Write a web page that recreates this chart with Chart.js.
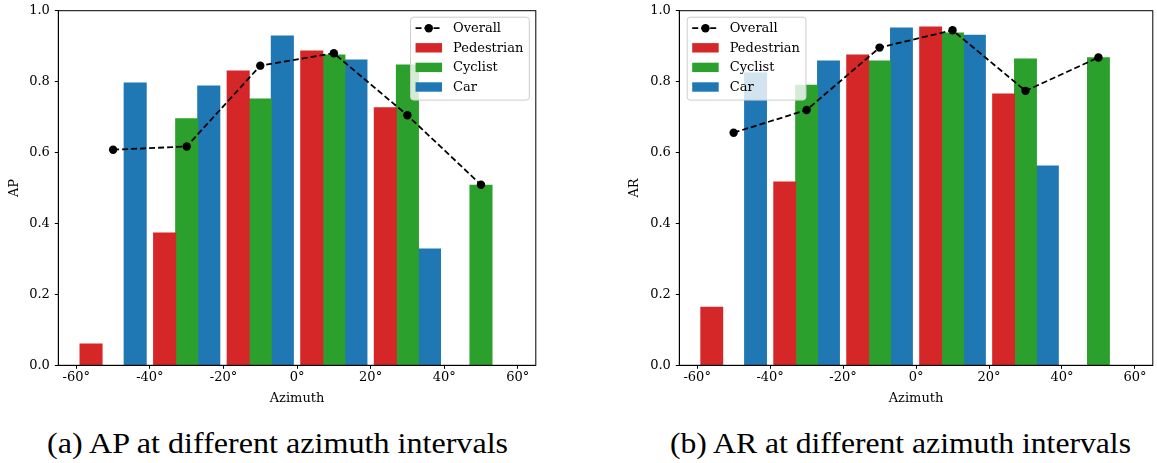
<!DOCTYPE html>
<html>
<head>
<meta charset="utf-8">
<script src="https://cdn.jsdelivr.net/npm/chart.js@4.4.1/dist/chart.umd.min.js"></script>
<style>
  body { margin: 0; background: #fff; width: 1157px; height: 463px; position: relative; overflow: hidden; }
  canvas { position: absolute; top: 0; }
  .caption { position: absolute; top: 428px; font-size: 28.5px; color: #000; white-space: nowrap; transform-origin: center; }
</style>
</head>
<body>
<canvas id="apChart" width="540" height="410" style="left:0px"></canvas>
<canvas id="arChart" width="537" height="410" style="left:620px"></canvas>
<div class="caption" data-cx="277.5">(a) AP at different azimuth intervals</div>
<div class="caption" data-cx="900.5">(b) AR at different azimuth intervals</div>
<script>
// azimuth interval centres (deg)
var azimuth = [-50, -30, -10, 10, 30, 50];
var xTicks = [-60, -40, -20, 0, 20, 40, 60];
var yTicks = [0, 0.2, 0.4, 0.6, 0.8, 1.0];

// AP per class, null where the class has no samples
var apOverall = [0.608, 0.617, 0.845, 0.880, 0.705, 0.509];
var apPedestrian = [0.060, 0.373, 0.830, 0.886, 0.726, null];
var apCyclist = [null, 0.695, 0.751, 0.875, 0.847, 0.508];
var apCar = [0.796, 0.788, 0.929, 0.861, 0.328, null];

// AR per class
var arOverall = [0.656, 0.720, 0.896, 0.945, 0.774, 0.868];
var arPedestrian = [0.164, 0.517, 0.875, 0.954, 0.765, null];
var arCyclist = [null, 0.790, 0.858, 0.937, 0.864, 0.867];
var arCar = [0.824, 0.858, 0.951, 0.931, 0.562, null];

// first installed family of a list, found by comparing text widths
function pickFont(names) {
    var c = document.createElement('canvas').getContext('2d');
    var probe = 'AaBbMmWwIil1234567890()°';
    function w(f) { c.font = '40px ' + f; return c.measureText(probe).width; }
    var mono = w('monospace'), sans = w('sans-serif');
    for (var i = 0; i < names.length; i++) {
        var q = '"' + names[i] + '"';
        if (w(q + ', monospace') !== mono || w(q + ', sans-serif') !== sans) return q;
    }
    return 'serif';
}

var SERIF = pickFont(['DejaVu Serif', 'Liberation Serif', 'Noto Serif', 'Times New Roman']);
var CAPTION_FONT = pickFont(['Liberation Serif', 'Times New Roman', 'DejaVu Serif', 'Noto Serif']);
var FONT = SERIF + ', serif';
var FS = 13;

// captions: centred under each panel, stretched to the panel caption width
document.querySelectorAll('.caption').forEach(function(el) {
    el.style.fontFamily = CAPTION_FONT + ', serif';
    var w = el.getBoundingClientRect().width;
    var s = 461 / w;
    el.style.left = (parseFloat(el.dataset.cx) - w / 2) + 'px';
    el.style.transform = 'scaleX(' + s + ')';
});

function points(vals) {
    return azimuth.map(function(x, i) { return { x: x, y: vals[i] }; });
}

// keep the plot box fixed: no extra room reserved for overhanging tick labels
function noOverhang(s) {
    s.paddingTop = 0;
    s.paddingBottom = 0;
    s.paddingLeft = 0;
    s.paddingRight = 0;
}

// frame on all four sides of the plot area
var frame = {
    id: 'frame',
    afterDraw: function(chart) {
        var a = chart.chartArea, ctx = chart.ctx;
        ctx.save();
        ctx.strokeStyle = '#000';
        ctx.lineWidth = 1;
        ctx.strokeRect(a.left, a.top, a.right - a.left, a.bottom - a.top);
        ctx.restore();
    }
};

// matplotlib-style legend box inside the plot
var boxLegend = {
    id: 'boxLegend',
    afterDatasetsDraw: function(chart, args, opts) {
        var ctx = chart.ctx, a = chart.chartArea;
        var sets = chart.data.datasets;
        ctx.save();
        ctx.font = FS + 'px ' + FONT;
        var tw = 0;
        sets.forEach(function(d) { tw = Math.max(tw, ctx.measureText(d.label).width); });
        var pad = 5.5, handle = 26.5, gap = 11, row = 19.6;
        var w = pad + handle + gap + tw + pad;
        var h = row * sets.length + 4.5;
        var x = opts.side === 'right' ? a.right - 7 - w : a.left + 7.4;
        var y = a.top + 6;
        ctx.fillStyle = 'rgba(255,255,255,0.8)';
        ctx.strokeStyle = '#cccccc';
        ctx.lineWidth = 1;
        ctx.beginPath();
        ctx.roundRect(x + 0.5, y + 0.5, w, h, 3);
        ctx.fill();
        ctx.stroke();
        sets.forEach(function(d, i) {
            var cy = y + 11.5 + i * row;
            var hx = x + pad;
            if (d.type === 'line') {
                ctx.strokeStyle = '#000';
                ctx.lineWidth = 1.8;
                ctx.setLineDash([6, 3]);
                ctx.beginPath();
                ctx.moveTo(hx, cy);
                ctx.lineTo(hx + handle, cy);
                ctx.stroke();
                ctx.setLineDash([]);
                ctx.fillStyle = '#000';
                ctx.beginPath();
                ctx.arc(hx + handle / 2, cy, 4.2, 0, Math.PI * 2);
                ctx.fill();
            } else {
                ctx.fillStyle = d.backgroundColor;
                ctx.fillRect(hx, cy - 4.7, handle, 9.4);
            }
            ctx.fillStyle = '#000';
            ctx.textBaseline = 'middle';
            ctx.fillText(d.label, hx + handle + gap, cy + 0.5);
        });
        ctx.restore();
    }
};

function makeChart(id, yLabel, overall, ped, cyc, car, side, yAxisWidth) {
    var bar = { order: 1, borderWidth: 0, borderSkipped: false, inflateAmount: 0.5 };
    return new Chart(document.getElementById(id), {
        type: 'bar',
        data: {
            datasets: [
                {
                    type: 'line', label: 'Overall', data: points(overall), order: 0,
                    borderColor: '#000', backgroundColor: '#000', borderWidth: 1.8,
                    borderDash: [6, 3], pointRadius: 4.2, pointBackgroundColor: '#000',
                    pointBorderWidth: 0, tension: 0
                },
                Object.assign({ label: 'Pedestrian', data: points(ped), backgroundColor: '#d62728' }, bar),
                Object.assign({ label: 'Cyclist', data: points(cyc), backgroundColor: '#2ca02c' }, bar),
                Object.assign({ label: 'Car', data: points(car), backgroundColor: '#1f77b4' }, bar)
            ]
        },
        options: {
            responsive: false,
            animation: false,
            events: [],
            categoryPercentage: 0.9,
            barPercentage: 1.0,
            layout: { padding: { top: 10.7, right: 1.5, bottom: 0, left: 0 } },
            plugins: {
                legend: { display: false },
                tooltip: { enabled: false },
                boxLegend: { side: side }
            },
            scales: {
                x: {
                    type: 'linear', min: -64.9, max: 64.9, offset: false,
                    afterBuildTicks: function(s) { s.ticks = xTicks.map(function(v) { return { value: v }; }); },
                    afterFit: function(s) { s.height = 44.7; noOverhang(s); },
                    grid: { offset: false, drawOnChartArea: false, drawTicks: true, tickLength: 3.5, color: '#000', tickWidth: 1 },
                    border: { color: '#000', width: 1 },
                    ticks: {
                        color: '#000', padding: 1.5, maxRotation: 0, autoSkip: false,
                        font: { family: FONT, size: FS },
                        callback: function(v) { return v + '°'; }
                    },
                    title: {
                        display: true, text: 'Azimuth', color: '#000',
                        font: { family: FONT, size: FS }, padding: { top: 0, bottom: 3.5 }
                    }
                },
                y: {
                    min: 0, max: 1,
                    afterBuildTicks: function(s) { s.ticks = yTicks.map(function(v) { return { value: v }; }); },
                    afterFit: function(s) { s.width = yAxisWidth; noOverhang(s); },
                    grid: { drawOnChartArea: false, drawTicks: true, tickLength: 3.5, color: '#000', tickWidth: 1 },
                    border: { color: '#000', width: 1 },
                    ticks: {
                        color: '#000', padding: 5,
                        font: { family: FONT, size: FS },
                        callback: function(v) { return v.toFixed(1); }
                    },
                    title: {
                        display: true, text: yLabel, color: '#000',
                        font: { family: FONT, size: FS }, padding: { top: 7, bottom: 0 }
                    }
                }
            }
        },
        plugins: [frame, boxLegend]
    });
}

makeChart('apChart', 'AP', apOverall, apPedestrian, apCyclist, apCar, 'right', 58.3);
makeChart('arChart', 'AR', arOverall, arPedestrian, arCyclist, arCar, 'left', 59.3);
</script>
</body>
</html>
